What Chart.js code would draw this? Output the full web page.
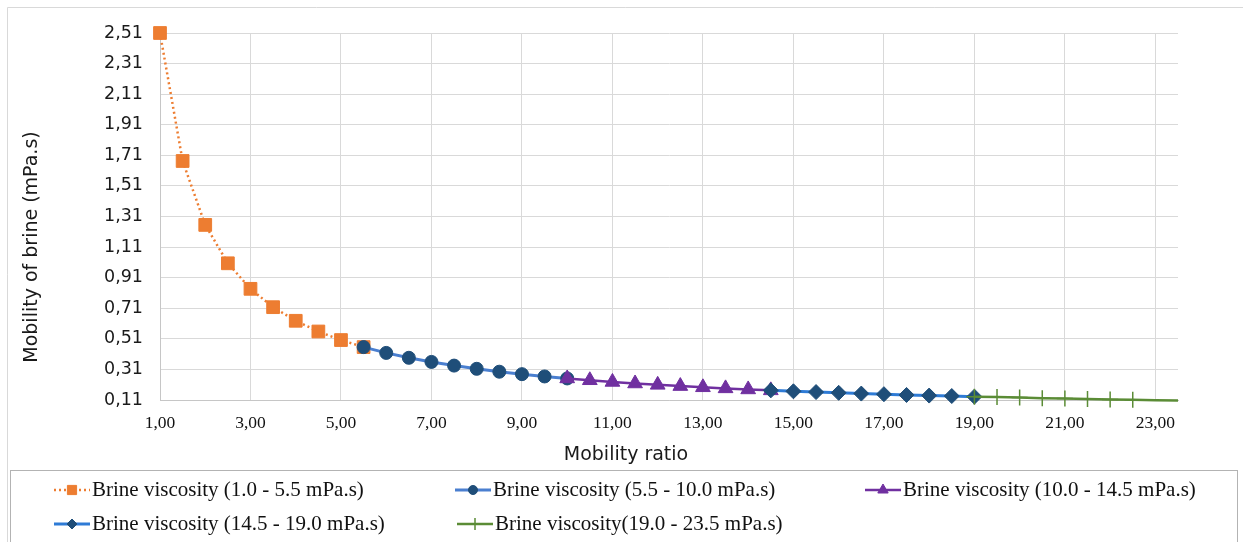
<!DOCTYPE html>
<html>
<head>
<meta charset="utf-8">
<script src="https://cdn.jsdelivr.net/npm/chart.js@4/dist/chart.umd.min.js"></script>
<style>
  html, body { margin: 0; padding: 0; background: #fff; }
  #wrap { position: relative; width: 1243px; height: 542px; }
</style>
</head>
<body>
<div id="wrap"><canvas id="graph-canvas"></canvas></div>
<script>
// mobility ratio (x) and brine mobility (y), one pair of arrays per viscosity band
const ratio1 = [1.0, 1.5, 2.0, 2.5, 3.0, 3.5, 4.0, 4.5, 5.0, 5.5]
const mob1 = [2.51, 1.673, 1.255, 1.004, 0.837, 0.717, 0.628, 0.558, 0.502, 0.456]

const ratio2 = [5.5, 6.0, 6.5, 7.0, 7.5, 8.0, 8.5, 9.0, 9.5, 10.0]
const mob2 = [0.456, 0.418, 0.386, 0.359, 0.335, 0.314, 0.295, 0.279, 0.264, 0.251]

const ratio3 = [10.0, 10.5, 11.0, 11.5, 12.0, 12.5, 13.0, 13.5, 14.0, 14.5]
const mob3 = [0.251, 0.239, 0.228, 0.218, 0.209, 0.201, 0.193, 0.186, 0.179, 0.173]

const ratio4 = [14.5, 15.0, 15.5, 16.0, 16.5, 17.0, 17.5, 18.0, 18.5, 19.0]
const mob4 = [0.173, 0.167, 0.162, 0.157, 0.152, 0.148, 0.143, 0.139, 0.136, 0.132]

const ratio5 = [19.0, 19.5, 20.0, 20.5, 21.0, 21.5, 22.0, 22.5, 23.0, 23.5]
const mob5 = [0.132, 0.129, 0.126, 0.122, 0.120, 0.117, 0.114, 0.112, 0.109, 0.107]

const seriesLabels = [
    'Brine viscosity (1.0 - 5.5 mPa.s)',
    'Brine viscosity (5.5 - 10.0 mPa.s)',
    'Brine viscosity (10.0 - 14.5 mPa.s)',
    'Brine viscosity (14.5 - 19.0 mPa.s)',
    'Brine viscosity(19.0 - 23.5 mPa.s)'
]

const xTicks = [1, 3, 5, 7, 9, 11, 13, 15, 17, 19, 21, 23]
const yTicks = [0.11, 0.31, 0.51, 0.71, 0.91, 1.11, 1.31, 1.51, 1.71, 1.91, 2.11, 2.31, 2.51]

const xTitle = 'Mobility ratio'
const yTitle = 'Mobility of brine (mPa.s)'

pairs = (xs, ys) => xs.map((x, i) => ({ x: x, y: ys[i] }))
comma = (v) => v.toFixed(2).replace('.', ',')

const datasets = [
    {
        label: seriesLabels[0], data: pairs(ratio1, mob1),
        borderColor: '#ED7D31', borderWidth: 2.5, borderDash: [2, 3],
        pointStyle: 'rect', pointRadius: 9, pointBackgroundColor: '#ED7D31', pointBorderColor: '#ED7D31',
        legendRadius: 6.5, order: 5
    },
    {
        label: seriesLabels[1], data: pairs(ratio2, mob2),
        borderColor: '#4A7FD0', borderWidth: 3,
        pointStyle: 'circle', pointRadius: 6.5, pointBackgroundColor: '#1F4E79', pointBorderColor: '#1F4E79',
        legendRadius: 4.5, order: 4
    },
    {
        label: seriesLabels[2], data: pairs(ratio3, mob3),
        borderColor: '#7030A0', borderWidth: 2.5,
        pointStyle: 'triangle', pointRadius: 8.5, pointBackgroundColor: '#7030A0', pointBorderColor: '#7030A0',
        legendRadius: 6, order: 3
    },
    {
        label: seriesLabels[3], data: pairs(ratio4, mob4),
        borderColor: '#2E7BD6', borderWidth: 3,
        pointStyle: 'rectRot', pointRadius: 7.5, pointBackgroundColor: '#1F4E79', pointBorderColor: '#1F4E79',
        legendRadius: 5, order: 2
    },
    {
        label: seriesLabels[4], data: pairs(ratio5, mob5),
        borderColor: '#5B8C36', borderWidth: 2.5,
        pointStyle: 'cross', pointRadius: [8, 8, 8, 8, 8, 8, 8, 8, 0, 0], pointBorderWidth: 1.5,
        pointBackgroundColor: '#5B8C36', pointBorderColor: '#5B8C36',
        legendRadius: 6, order: 1
    }
]
datasets.forEach(d => {
    d.showLine = true
    d.fill = false
    d.tension = 0
    d.clip = false
    if (!d.pointBorderWidth) d.pointBorderWidth = 1
})

// where each legend entry's text starts
const legendSpots = [[92, 490], [493, 490], [903, 490], [92, 524], [495, 524]]

const decorations = {
    id: 'decorations',
    beforeDraw: (chart) => {
        const ctx = chart.ctx
        ctx.save()
        ctx.fillStyle = '#fff'
        ctx.fillRect(0, 0, chart.width, chart.height)
        ctx.strokeStyle = '#d9d9d9'
        ctx.lineWidth = 1
        ctx.beginPath()
        ctx.moveTo(7.5, 542)
        ctx.lineTo(7.5, 7.5)
        ctx.lineTo(1243, 7.5)
        ctx.stroke()
        ctx.strokeStyle = '#b3b3b3'
        ctx.strokeRect(10.5, 470.5, 1227, 80)
        ctx.restore()
    },
    afterDraw: (chart) => {
        const ctx = chart.ctx
        ctx.save()
        ctx.fillStyle = '#1a1a1a'
        ctx.font = '19px "DejaVu Sans"'
        ctx.textAlign = 'center'
        ctx.textBaseline = 'middle'
        ctx.fillText(xTitle, 626, 455)
        ctx.translate(32, 247)
        ctx.rotate(-Math.PI / 2)
        ctx.fillText(yTitle, 0, 0)
        ctx.restore()

        chart.data.datasets.forEach((d, i) => {
            const tx = legendSpots[i][0], ty = legendSpots[i][1]
            ctx.save()
            ctx.strokeStyle = d.borderColor
            ctx.lineWidth = d.borderWidth
            ctx.setLineDash(d.borderDash || [])
            ctx.beginPath()
            ctx.moveTo(tx - 38, ty)
            ctx.lineTo(tx - 2, ty)
            ctx.stroke()
            ctx.setLineDash([])
            ctx.fillStyle = d.pointBackgroundColor
            ctx.strokeStyle = d.pointBorderColor
            ctx.lineWidth = d.pointBorderWidth
            Chart.helpers.drawPoint(ctx, {
                pointStyle: d.pointStyle, rotation: 0,
                radius: d.legendRadius, borderWidth: d.pointBorderWidth
            }, tx - 20, ty)
            ctx.fillStyle = '#111'
            ctx.font = '21px "Liberation Serif"'
            ctx.textAlign = 'left'
            ctx.textBaseline = 'middle'
            ctx.fillText(d.label, tx, ty)
            ctx.restore()
        })
    }
}

const chart = new Chart(document.getElementById('graph-canvas'), {
    type: 'scatter',
    data: { datasets: datasets },
    plugins: [decorations],
    options: {
        responsive: true,
        maintainAspectRatio: false,
        devicePixelRatio: 1,
        animation: false,
        layout: { padding: { left: 0, top: 33, right: 65, bottom: 102 } },
        plugins: { legend: { display: false }, tooltip: { enabled: false } },
        scales: {
            x: {
                type: 'linear', min: 1, max: 23.5,
                afterBuildTicks: (s) => { s.ticks = xTicks.map(v => ({ value: v })) },
                afterFit: (s) => { s.height = 40 },
                grid: { color: '#d9d9d9', drawTicks: false },
                border: { color: '#c6c6c6' },
                ticks: {
                    padding: 13, color: '#111', maxRotation: 0, autoSkip: false,
                    font: { family: 'Liberation Serif', size: 17.5 },
                    callback: (v) => comma(v)
                }
            },
            y: {
                type: 'linear', min: 0.11, max: 2.51,
                afterBuildTicks: (s) => { s.ticks = yTicks.map(v => ({ value: v })) },
                afterFit: (s) => { s.width = 160 },
                grid: { color: '#d9d9d9', drawTicks: false },
                border: { color: '#c6c6c6' },
                ticks: {
                    padding: 17, color: '#1a1a1a', autoSkip: false,
                    font: { family: 'DejaVu Sans', size: 17.5 },
                    callback: (v) => comma(v)
                }
            }
        }
    }
})
</script>
</body>
</html>
